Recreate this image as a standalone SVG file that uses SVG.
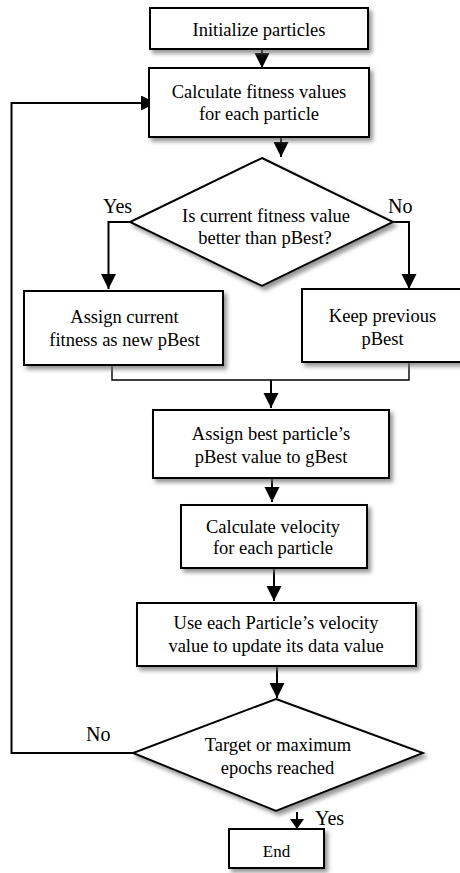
<svg xmlns="http://www.w3.org/2000/svg" width="460" height="873" viewBox="0 0 460 873">
  <style>
    .box { fill: #ffffff; stroke: #000000; stroke-width: 2; filter: url(#shadow); }
    .lbl { font-family: "Liberation Serif", "Times New Roman", serif; font-size: 18.5px; fill: #000000; text-anchor: middle; }
    .yn { font-family: "Liberation Serif", "Times New Roman", serif; font-size: 20px; fill: #000000; }
    .wire { fill: none; stroke: #000000; stroke-width: 2; }
    .thin { fill: none; stroke: #000000; stroke-width: 1.4; }
    .arr { marker-end: url(#head); }
  </style>
  <defs>
    <filter id="shadow" x="-10%" y="-10%" width="130%" height="140%">
      <feDropShadow dx="3" dy="3.5" stdDeviation="2" flood-color="#6f6f6f" flood-opacity="0.75"/>
    </filter>
    <marker id="head" markerUnits="userSpaceOnUse" markerWidth="16" markerHeight="16" refX="15" refY="7.5" orient="auto">
      <path d="M0,0 L15,7.5 L0,15 Z" fill="#000000"/>
    </marker>
    <marker id="headSmall" markerUnits="userSpaceOnUse" markerWidth="12" markerHeight="16" refX="10" refY="7" orient="auto">
      <path d="M0,0 L10,7 L0,14 Z" fill="#000000"/>
    </marker>
  </defs>

  <rect width="460" height="873" fill="#ffffff"/>

  <!-- connectors -->
  <g id="connectors">
    <line class="wire arr" x1="262" y1="49" x2="262" y2="68"/>
    <line class="wire arr" x1="281" y1="137" x2="281" y2="157"/>
    <polyline class="wire arr" points="130,222 108.5,222 108.5,289"/>
    <polyline class="wire arr" points="393,222 409,222 409,289"/>
    <polyline class="thin" points="112,365 112,380 409,380 409,362"/>
    <line class="wire arr" x1="271" y1="380" x2="271" y2="408"/>
    <line class="wire arr" x1="272" y1="478" x2="272" y2="502"/>
    <line class="wire arr" x1="274" y1="568" x2="274" y2="601"/>
    <line class="wire arr" x1="277" y1="666" x2="277" y2="698"/>
    <polyline class="wire arr" points="133,753 11.5,753 11.5,103 156,103"/>
    <line class="wire" x1="297" y1="812" x2="297" y2="829" marker-end="url(#headSmall)"/>
    <text class="yn" x="103" y="213">Yes</text>
    <text class="yn" x="388" y="213">No</text>
    <text class="yn" x="86" y="741">No</text>
    <text class="yn" x="315" y="825">Yes</text>
  </g>

  <g id="init">
    <rect class="box" x="150" y="8" width="218" height="41"/>
    <text class="lbl" x="259" y="36">Initialize particles</text>
  </g>

  <g id="fitness">
    <rect class="box" x="149" y="68" width="220" height="69"/>
    <text class="lbl" x="259" y="97.5">Calculate fitness values</text>
    <text class="lbl" x="259" y="120">for each particle</text>
  </g>

  <g id="compare">
    <polygon class="box" points="262,158 393,222 262,286 130,222"/>
    <text class="lbl" x="266" y="221.5">Is current fitness value</text>
    <text class="lbl" x="265" y="244">better than pBest?</text>
  </g>

  <g id="assign-current">
    <rect class="box" x="24" y="291" width="199" height="74"/>
    <text class="lbl" x="124.5" y="323">Assign current</text>
    <text class="lbl" x="124.5" y="345.5">fitness as new pBest</text>
  </g>

  <g id="keep-previous">
    <rect class="box" x="302" y="289" width="165" height="73"/>
    <text class="lbl" x="382.5" y="322">Keep previous</text>
    <text class="lbl" x="382.5" y="344.5">pBest</text>
  </g>

  <g id="assign-gbest">
    <rect class="box" x="153" y="410" width="236" height="68"/>
    <text class="lbl" x="271" y="440">Assign best particle’s</text>
    <text class="lbl" x="271" y="463">pBest value to gBest</text>
  </g>

  <g id="velocity">
    <rect class="box" x="181" y="505" width="186" height="63"/>
    <text class="lbl" x="273" y="533">Calculate velocity</text>
    <text class="lbl" x="273" y="554">for each particle</text>
  </g>

  <g id="update">
    <rect class="box" x="137" y="603" width="279" height="63"/>
    <text class="lbl" x="276" y="628.5">Use each Particle’s velocity</text>
    <text class="lbl" x="276" y="652">value to update its data value</text>
  </g>

  <g id="stop-check">
    <polygon class="box" points="276,699 423,753 276,811 133,753"/>
    <text class="lbl" x="278" y="751">Target or maximum</text>
    <text class="lbl" x="277.5" y="773.5">epochs reached</text>
  </g>

  <g id="end">
    <rect class="box" x="229" y="829" width="95" height="39"/>
    <text class="lbl" x="276.5" y="857" style="font-size:17px">End</text>
  </g>
</svg>
